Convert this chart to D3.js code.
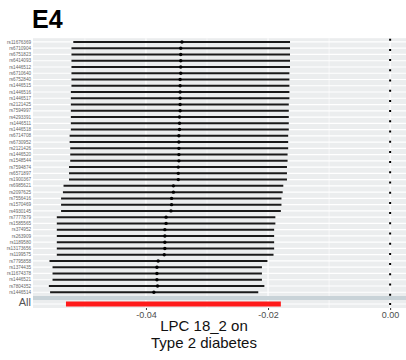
<!DOCTYPE html>
<html>
<head>
<meta charset="utf-8">
<script src="https://cdn.jsdelivr.net/npm/d3@7"></script>
<style>
	body { margin: 0; background: #fff; }
	svg { display: block; font-family: "Liberation Sans", Arial, sans-serif; }
</style>
</head>
<body>
<svg id="chart"></svg>
<script>
// SNP rows, top to bottom
const snps = ["rs11676369", "rs6710904", "rs6751823", "rs6414093", "rs1446512", "rs6710640", "rs6752840",
	"rs1446515", "rs1446516", "rs1446517", "rs2121425", "rs7594997", "rs4293391", "rs1446511", "rs1446518",
	"rs6714708", "rs6730952", "rs2121426", "rs1446520", "rs1548544", "rs7594874", "rs6571897", "rs1900367",
	"rs6985621", "rs2097625", "rs7556416", "rs1570469", "rs4930145", "rs7777879", "rs1585565", "rs374952",
	"rs263909", "rs1189580", "rs13173656", "rs1199575", "rs7795858", "rs1374435", "rs11674378", "rs1446521",
	"rs7804352", "rs1446514"]
const estimate = [-0.0341, -0.0343, -0.0343, -0.0343, -0.0343, -0.0343, -0.0344, -0.0344, -0.0344, -0.0344,
	-0.0344, -0.0344, -0.0345, -0.0345, -0.0345, -0.0346, -0.0346, -0.0346, -0.0346, -0.0346, -0.0347,
	-0.0347, -0.0347, -0.0355, -0.0355, -0.0358, -0.0358, -0.0359, -0.0367, -0.0367, -0.0369, -0.0369,
	-0.0369, -0.0369, -0.0370, -0.0380, -0.0382, -0.0382, -0.0382, -0.0381, -0.0387]
const lower = [-0.0519, -0.0522, -0.0522, -0.0522, -0.0522, -0.0522, -0.0522, -0.0522, -0.0523, -0.0523,
	-0.0523, -0.0523, -0.0523, -0.0523, -0.0523, -0.0525, -0.0525, -0.0524, -0.0524, -0.0524, -0.0526,
	-0.0526, -0.0526, -0.0535, -0.0536, -0.0539, -0.0539, -0.0539, -0.0546, -0.0546, -0.0546, -0.0546,
	-0.0546, -0.0546, -0.0546, -0.0558, -0.0553, -0.0553, -0.0553, -0.0559, -0.0557]
const upper = [-0.0164, -0.0164, -0.0164, -0.0164, -0.0164, -0.0165, -0.0165, -0.0165, -0.0165, -0.0165,
	-0.0166, -0.0166, -0.0166, -0.0166, -0.0166, -0.0167, -0.0167, -0.0167, -0.0168, -0.0168, -0.0169,
	-0.0169, -0.0169, -0.0175, -0.0176, -0.0178, -0.0178, -0.0179, -0.0188, -0.0188, -0.0190, -0.0190,
	-0.0190, -0.0190, -0.0191, -0.0201, -0.0210, -0.0210, -0.0210, -0.0206, -0.0216]

// pooled estimate
const allLabel = ["All"]
const allLower = [-0.0531]
const allUpper = [-0.0179]

const tickValues = [-0.04, -0.02, 0.00]
const tickLabels = ["-0.04", "-0.02", "0.00"]
const minorTicks = [-0.05, -0.03, -0.01]

const width = 406
const height = 360
const panel = {left: 33, right: 406, top: 38.2, bottom: 296}
const panelAll = {top: 300, bottom: 308}

const svg = d3.select("#chart").attr("width", width).attr("height", height)

const x = d3.scaleLinear().domain([-0.0585, 0.0026]).range([panel.left, panel.right])
const y = d3.scalePoint().domain(snps).range([panel.top, panel.bottom]).padding(0.6)
const yAll = d3.scalePoint().domain(allLabel).range([panelAll.top, panelAll.bottom]).padding(0.6)

// title
svg.append("text")
	.attr("x", 32).attr("y", 28)
	.attr("font-size", 25).attr("font-weight", "bold")
	.attr("fill", "#000")
	.text("E4")

function drawPanel(top, bottom, rows, yScale) {
	const g = svg.append("g")
	g.append("rect")
		.attr("x", panel.left).attr("y", top)
		.attr("width", panel.right - panel.left).attr("height", bottom - top)
		.attr("fill", "#ebedee")
	g.selectAll(".minor").data(minorTicks).join("line")
		.attr("x1", d => x(d)).attr("x2", d => x(d))
		.attr("y1", top).attr("y2", bottom)
		.attr("stroke", "#fff").attr("stroke-width", 0.6)
	g.selectAll(".major").data(tickValues).join("line")
		.attr("x1", d => x(d)).attr("x2", d => x(d))
		.attr("y1", top).attr("y2", bottom)
		.attr("stroke", "#fff").attr("stroke-width", 1.2)
	g.selectAll(".hgrid").data(rows).join("line")
		.attr("x1", panel.left).attr("x2", panel.right)
		.attr("y1", d => yScale(d)).attr("y2", d => yScale(d))
		.attr("stroke", "#fff").attr("stroke-width", 1.2)
	return g
}

const p1 = drawPanel(panel.top, panel.bottom, snps, y)

// band between the two panels
svg.append("rect")
	.attr("x", panel.left).attr("y", panel.bottom)
	.attr("width", panel.right - panel.left).attr("height", panelAll.top - panel.bottom)
	.attr("fill", "#c9d3d8")

const p2 = drawPanel(panelAll.top, panelAll.bottom, allLabel, yAll)

// dotted reference line at zero
p1.append("line")
	.attr("x1", x(0)).attr("x2", x(0))
	.attr("y1", panel.top).attr("y2", panel.bottom)
	.attr("stroke", "#000").attr("stroke-width", 2)
	.attr("stroke-dasharray", "2,8.2")
	.attr("stroke-dashoffset", -0.5)
p2.append("line")
	.attr("x1", x(0)).attr("x2", x(0))
	.attr("y1", yAll("All") - 1).attr("y2", yAll("All") + 1)
	.attr("stroke", "#000").attr("stroke-width", 2)

// SNP intervals
p1.selectAll(".ci").data(snps).join("line")
	.attr("x1", (d, i) => x(lower[i])).attr("x2", (d, i) => x(upper[i]))
	.attr("y1", d => y(d)).attr("y2", d => y(d))
	.attr("stroke", "#1a1a1a").attr("stroke-width", 2)
p1.selectAll(".pt").data(snps).join("circle")
	.attr("cx", (d, i) => x(estimate[i])).attr("cy", d => y(d))
	.attr("r", 1.7).attr("fill", "#000")

// pooled interval
p2.selectAll(".all").data(allLabel).join("line")
	.attr("x1", (d, i) => x(allLower[i])).attr("x2", (d, i) => x(allUpper[i]))
	.attr("y1", d => yAll(d)).attr("y2", d => yAll(d))
	.attr("stroke", "#ff1a1a").attr("stroke-width", 5)

// row labels
svg.append("g")
	.selectAll("text").data(snps).join("text")
	.attr("x", 31).attr("y", d => y(d))
	.attr("dy", "0.35em")
	.attr("text-anchor", "end")
	.attr("font-size", 4.6)
	.attr("fill", "#666")
	.text(d => d)
svg.append("text")
	.attr("x", 31).attr("y", yAll("All") - 1.5)
	.attr("dy", "0.35em")
	.attr("text-anchor", "end")
	.attr("font-size", 11)
	.attr("fill", "#555")
	.text("All")

// x axis
const xAxis = svg.append("g")
	.attr("transform", "translate(0," + panelAll.bottom + ")")
	.call(d3.axisBottom(x).tickValues(tickValues).tickFormat((d, i) => tickLabels[i]).tickSize(2).tickPadding(2))
xAxis.select(".domain").remove()
xAxis.selectAll(".tick line").attr("stroke", "#333")
xAxis.selectAll(".tick text")
	.attr("font-size", 9)
	.attr("font-family", "\"Liberation Sans\", Arial, sans-serif")
	.attr("fill", "#4d4d4d")

// axis title
svg.append("text")
	.attr("x", 204).attr("y", 331)
	.attr("text-anchor", "middle")
	.attr("font-size", 15)
	.attr("fill", "#111")
	.text("LPC 18_2 on")
svg.append("text")
	.attr("x", 204).attr("y", 347.5)
	.attr("text-anchor", "middle")
	.attr("font-size", 15)
	.attr("fill", "#111")
	.text("Type 2 diabetes")
</script>
</body>
</html>
